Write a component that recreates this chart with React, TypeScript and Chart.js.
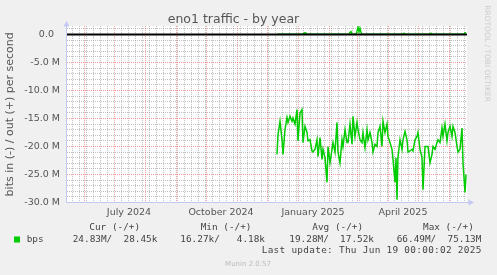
import { useEffect, useRef } from 'react';
import { Chart, registerables } from 'chart.js';

Chart.register(...registerables);

// x = days since 2024-05-15 00:00 (400-day window ending 2025-06-19)
const START = Date.UTC(2024, 4, 15);
const RANGE_DAYS = 400;
const DAY = 86400000;

// in (-) traffic, Mbit/s
const inDays = [
  210, 211, 213, 215, 216, 218, 220, 221, 223, 225,
  226, 228, 230, 231, 233, 235, 236, 238, 240, 241,
  243, 245, 246, 248, 250, 251, 253, 255, 256, 258,
  260, 261, 263, 265, 266, 268, 270, 271, 273, 275,
  276, 278, 280, 281, 283, 285, 286, 288, 290, 291,
  293, 295, 296, 298, 300, 301, 303, 305, 306, 308,
  310, 311, 313, 315, 316, 318, 320, 321, 323, 325,
  326, 328, 329, 330, 331, 333, 335, 336, 338, 340,
  341, 343, 345, 346, 348, 350, 351, 353, 355, 356,
  358, 360, 361, 363, 365, 366, 368, 370, 371, 373,
  375, 376, 378, 380, 381, 383, 385, 386, 388, 390,
  391, 393, 395, 396, 398, 399,
];
const inValues = [
  -21.4, -17.9, -15.5, -18.8, -21.4, -17.0, -14.8, -15.7, -14.6, -15.5,
  -14.9, -16.0, -13.4, -19.0, -14.0, -13.4, -19.3, -16.4, -17.5, -19.0,
  -18.8, -20.8, -21.0, -20.5, -18.8, -21.8, -18.4, -22.3, -20.5, -22.0,
  -26.4, -20.0, -22.9, -20.5, -19.3, -21.0, -15.7, -21.0, -22.9, -18.8,
  -20.0, -17.0, -19.3, -19.3, -16.0, -19.6, -14.6, -18.2, -15.7, -17.0,
  -18.8, -19.3, -17.5, -20.2, -17.0, -18.8, -17.5, -19.3, -21.0, -19.6,
  -20.0, -17.5, -16.4, -20.0, -15.5, -17.5, -16.0, -18.2, -19.3, -20.5,
  -22.3, -26.4, -22.0, -29.5, -21.8, -18.8, -20.5, -18.8, -17.3, -18.8,
  -21.0, -20.8, -20.5, -20.8, -18.8, -18.2, -17.5, -20.5, -22.0, -27.7,
  -20.0, -20.0, -20.0, -22.9, -21.4, -20.0, -20.5, -19.3, -18.8, -19.3,
  -16.7, -18.2, -16.0, -19.0, -17.5, -16.4, -18.2, -16.4, -17.5, -20.0,
  -21.0, -20.5, -16.7, -22.9, -28.2, -25.0,
];

// out (+) traffic, Mbit/s
const outDays = [210, 236, 237, 238, 239, 240, 282, 283, 284, 285, 289, 290, 291, 292, 293, 294, 295, 336, 337, 338, 363, 364, 365, 397, 398, 399];
const outValues = [0.03, 0.03, 0.25, 0.3, 0.25, 0.03, 0.03, 0.4, 0.5, 0.03, 0.03, 0.6, 1.3, 0.5, 1.1, 0.4, 0.03, 0.03, 0.2, 0.03, 0.03, 0.2, 0.03, 0.03, 0.3, 0.3];

const yTickLabels = ['0.0', '-5.0 M', '-10.0 M', '-15.0 M', '-20.0 M', '-25.0 M', '-30.0 M'];
const xLabelMonths = ['2024-07-01', '2024-10-01', '2025-01-01', '2025-04-01'];
const xTickLabels = ['July 2024', 'October 2024', 'January 2025', 'April 2025'];

const titleText = 'eno1 traffic - by year';
const yTitle = 'bits in (-) / out (+) per second';
const seriesLabel = 'bps';
const legendHeaders = ['Cur (-/+)', 'Min (-/+)', 'Avg (-/+)', 'Max (-/+)'];
const legendValues = ['24.83M/  28.45k', '16.27k/   4.18k', '19.28M/  17.52k', '66.49M/  75.13M'];
const lastUpdate = 'Last update: Thu Jun 19 00:00:02 2025';
const watermark = 'Munin 2.0.57';
const sideText = 'RRDTOOL / TOBI OETIKER';

const GREEN = '#00cc00';
const MAJOR = 'rgba(240,60,60,0.5)';
const MINOR = 'rgba(150,150,150,0.6)';
const AXIS = '#c3c8f3';
const TEXT = '#555';
const SANS = '"DejaVu Sans", sans-serif';
const MONO = '"DejaVu Sans Mono", monospace';

const dayOf = (t: number) => Math.round((t - START) / DAY);

// month starts (major grid), Monday week starts (minor grid), label positions
const monthDays: number[] = [];
for (let y = 2024, m = 4; y < 2026; ) {
  const d = dayOf(Date.UTC(y, m, 1));
  if (d > RANGE_DAYS) break;
  if (d >= 0) monthDays.push(d);
  m++;
  if (m > 11) { m = 0; y++; }
}
const weekDays: number[] = [];
{
  const wd = new Date(START).getUTCDay();
  for (let d = (8 - wd) % 7; d <= RANGE_DAYS; d += 7) weekDays.push(d);
}
const monthSet = new Set(monthDays);
const labelDays = xLabelMonths.map((s) => dayOf(Date.parse(s + 'T00:00:00Z')) + 15);
const labelMap = new Map<number, string>(labelDays.map((d, i) => [d, xTickLabels[i]]));

const muninPlugin = {
  id: 'muninDecor',
  beforeDraw(chart: any) {
    const { ctx, chartArea: a, width, height } = chart;
    ctx.save();
    ctx.fillStyle = '#f0f0f0';
    ctx.fillRect(0, 0, width, height);
    ctx.fillStyle = '#ffffff';
    ctx.fillRect(a.left, a.top, a.right - a.left, a.bottom - a.top);
    ctx.restore();
  },
  beforeDatasetsDraw(chart: any) {
    const { ctx, chartArea: a, scales } = chart;
    const xs = scales.x;
    const ys = scales.y;
    ctx.save();
    ctx.lineWidth = 1;
    ctx.setLineDash([1, 1]);
    const hline = (v: number, color: string) => {
      const py = Math.floor(ys.getPixelForValue(v)) + 0.5;
      ctx.strokeStyle = color;
      ctx.beginPath();
      ctx.moveTo(a.left, py);
      ctx.lineTo(a.right, py);
      ctx.stroke();
    };
    const vline = (d: number, color: string) => {
      const px = Math.floor(xs.getPixelForValue(d)) + 0.5;
      ctx.strokeStyle = color;
      ctx.beginPath();
      ctx.moveTo(px, a.top);
      ctx.lineTo(px, a.bottom);
      ctx.stroke();
    };
    for (let v = -30; v <= 1; v++) if (v % 5 !== 0) hline(v, MINOR);
    weekDays.forEach((d) => { if (!monthSet.has(d)) vline(d, MINOR); });
    for (let v = -30; v <= 0; v += 5) hline(v, MAJOR);
    monthDays.forEach((d) => vline(d, MAJOR));
    ctx.restore();
  },
  afterDatasetsDraw(chart: any) {
    const { ctx, chartArea: a, scales } = chart;
    const y0 = scales.y.getPixelForValue(0);
    ctx.save();
    ctx.strokeStyle = '#000';
    ctx.lineWidth = 2;
    ctx.beginPath();
    ctx.moveTo(a.left, y0);
    ctx.lineTo(a.right, y0);
    ctx.stroke();

    const ax = Math.round(a.left) - 0.5;
    const ay = Math.round(a.bottom) - 0.5;
    ctx.strokeStyle = AXIS;
    ctx.lineWidth = 1;
    ctx.beginPath();
    ctx.moveTo(ax, ay);
    ctx.lineTo(ax, a.top - 2);
    ctx.moveTo(ax, ay);
    ctx.lineTo(a.right + 3, ay);
    ctx.stroke();
    ctx.fillStyle = AXIS;
    ctx.beginPath();
    ctx.moveTo(ax - 3, a.top + 0.5);
    ctx.lineTo(ax + 3, a.top + 0.5);
    ctx.lineTo(ax, a.top - 5);
    ctx.closePath();
    ctx.fill();
    ctx.beginPath();
    ctx.moveTo(a.right + 1.5, ay - 3);
    ctx.lineTo(a.right + 1.5, ay + 3);
    ctx.lineTo(a.right + 7, ay);
    ctx.closePath();
    ctx.fill();
    ctx.restore();
  },
  afterDraw(chart: any) {
    const { ctx } = chart;
    ctx.save();
    ctx.fillStyle = GREEN;
    ctx.fillRect(14, 236.5, 6, 6);
    ctx.font = '9.4px ' + MONO;
    ctx.fillStyle = '#444';
    ctx.textBaseline = 'middle';
    ctx.textAlign = 'left';
    ctx.fillText(seriesLabel, 26.7, 239.5);
    const hx = [89.3, 200.7, 312.3, 423];
    const vx = [72.7, 180.3, 289.3, 396.7];
    legendHeaders.forEach((h, i) => ctx.fillText(h, hx[i], 228));
    legendValues.forEach((v, i) => ctx.fillText(v, vx[i], 239.5));
    (ctx as any).letterSpacing = '0.3px';
    ctx.fillText(lastUpdate, 261.7, 251);
    (ctx as any).letterSpacing = '0px';

    ctx.font = '7px ' + SANS;
    ctx.fillStyle = '#bbbbbb';
    ctx.textAlign = 'center';
    ctx.fillText(watermark, 248, 264.5);

    ctx.font = '7.5px ' + SANS;
    ctx.fillStyle = '#cccccc';
    ctx.textAlign = 'left';
    ctx.translate(487, 5.3);
    ctx.rotate(Math.PI / 2);
    ctx.fillText(sideText, 0, 0);
    ctx.restore();
  },
};

export default function App() {
  const ref = useRef<HTMLCanvasElement>(null);
  useEffect(() => {
    if (!ref.current) return;
    const tickFont = { family: SANS, size: 9.5 };
    const chart = new Chart(ref.current, {
      type: 'line',
      data: {
        datasets: [
          {
            label: 'in',
            data: inDays.map((d, i) => ({ x: d, y: inValues[i] })),
            borderColor: GREEN,
            borderWidth: 1.5,
            pointRadius: 0,
            tension: 0,
            fill: false,
          },
          {
            label: 'out',
            data: outDays.map((d, i) => ({ x: d, y: outValues[i] })),
            borderColor: GREEN,
            borderWidth: 1.5,
            pointRadius: 0,
            tension: 0,
            fill: false,
          },
        ],
      },
      options: {
        animation: false,
        responsive: false,
        devicePixelRatio: 1,
        events: [],
        layout: { padding: { left: 0, right: 30, top: 0, bottom: 52.5 } },
        plugins: {
          legend: { display: false },
          tooltip: { enabled: false },
          title: {
            display: true,
            text: titleText,
            color: TEXT,
            font: { family: SANS, size: 12.5, weight: 'normal', lineHeight: 1 },
            padding: { top: 13.75, bottom: -0.15 },
          },
        },
        scales: {
          x: {
            type: 'linear',
            min: 0,
            max: RANGE_DAYS,
            afterBuildTicks: (s: any) => {
              s.ticks = labelDays.map((v) => ({ value: v }));
            },
            afterFit: (s: any) => {
              s.height = 20;
            },
            grid: { display: false, drawTicks: false },
            border: { display: false },
            ticks: {
              autoSkip: false,
              maxRotation: 0,
              minRotation: 0,
              padding: 4,
              color: TEXT,
              font: tickFont,
              callback: (v: any) => labelMap.get(Number(v)) ?? '',
            },
          },
          y: {
            type: 'linear',
            min: -30,
            max: 1.5,
            afterBuildTicks: (s: any) => {
              const t = [];
              for (let v = -30; v <= 0; v += 5) t.push({ value: v });
              s.ticks = t;
            },
            afterFit: (s: any) => {
              s.width = 67;
            },
            grid: { display: false, drawTicks: false },
            border: { display: false },
            ticks: {
              autoSkip: false,
              padding: 7,
              color: TEXT,
              font: tickFont,
              callback: (v: any) => {
                const n = Number(v);
                const lbl = yTickLabels[Math.round(-n / 5)];
                return n === 0 ? lbl + '  ' : lbl;
              },
            },
            title: {
              display: true,
              text: yTitle,
              color: TEXT,
              font: { family: SANS, size: 11 },
              padding: { top: 3.4, bottom: 0 },
            },
          },
        },
      },
      plugins: [muninPlugin],
    } as any);
    return () => chart.destroy();
  }, []);
  return (
    <div style={{ position: 'absolute', left: 0, top: 0, width: 497, height: 275, background: '#f0f0f0' }}>
      <canvas ref={ref} width={497} height={275} style={{ display: 'block', width: 497, height: 275 }} />
    </div>
  );
}
